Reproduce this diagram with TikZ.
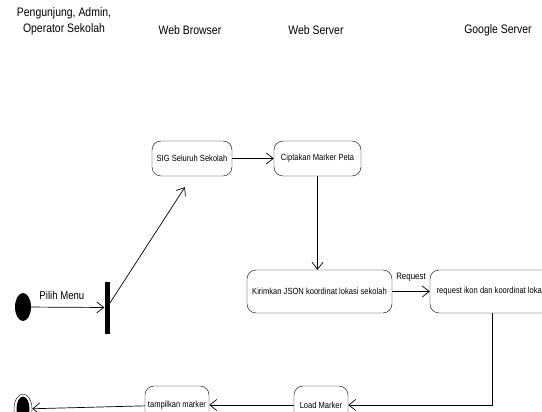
\documentclass[tikz,border=0pt]{standalone}
\usepackage{fontspec}
\setmainfont[FakeStretch=0.85]{Liberation Sans}
\usetikzlibrary{arrows.meta,shapes.geometric}

\begin{document}
\begin{tikzpicture}[x=1pt,y=-1pt,
  act/.style={draw,rounded corners=9pt,inner sep=2pt,font=\fontsize{8.9}{10}\selectfont},
  lane/.style={font=\fontsize{12.3}{16}\selectfont,align=center},
  flow/.style={-{Straight Barb[length=7pt,width=11pt]},line width=0.7pt}]
\useasboundingbox(0,0)rectangle(542,412);
% swimlane heads
\node[lane](actor)at(64,21){Pengunjung, Admin,\\Operator Sekolah};
\node[lane](browser)at(190,30){Web Browser};
\node[lane](server)at(316,30){Web Server};
\node[lane](google)at(498,30){Google Server};
% activities
\node[fill,ellipse,minimum width=16pt,minimum height=28pt,inner sep=0](start)at(23,307){};
\node[fill,minimum width=5pt,minimum height=52pt,inner sep=0](fork)at(107,307.5){};
\node[act,minimum width=80pt,minimum height=35pt](sig)at(192,158.5){SIG Seluruh Sekolah};
\node[act,minimum width=87pt,minimum height=35pt](cip)at(317.5,158.5){Ciptakan Marker Peta};
\node[act,minimum width=145pt,minimum height=43pt](kir)at(319.5,291.5){Kirimkan JSON koordinat lokasi sekolah};
\node[act,minimum width=124pt,minimum height=43pt](req)at(492,291.5){request ikon dan koordinat lokasi};
\node[act,minimum width=54pt,minimum height=38pt](load)at(321,405){Load Marker};
\node[act,minimum width=64pt,minimum height=38pt](tamp)at(177,405){tampilkan marker};
\node[draw,ellipse,minimum width=18pt,minimum height=30pt,inner sep=0](end)at(23,409){};
\node[fill,ellipse,minimum width=13pt,minimum height=25pt,inner sep=0]at(end.center){};
% flows
\draw[flow](start)--node[pos=0.42,above=4pt,font=\fontsize{11.3}{13}\selectfont]{Pilih Menu}(fork);
\draw[flow,shorten >=13pt](fork.center)--(sig.south);
\draw[flow](sig)--(cip);
\draw[flow](cip.south)--(cip.south|-kir.north);
\draw[flow](kir)--node[above=6pt,font=\fontsize{9.3}{10}\selectfont]{Request}(req);
\draw[flow](req.south)|-(load.east);
\draw[flow](load)--(tamp);
\draw[flow](tamp)--(end);
\end{tikzpicture}
\end{document}
